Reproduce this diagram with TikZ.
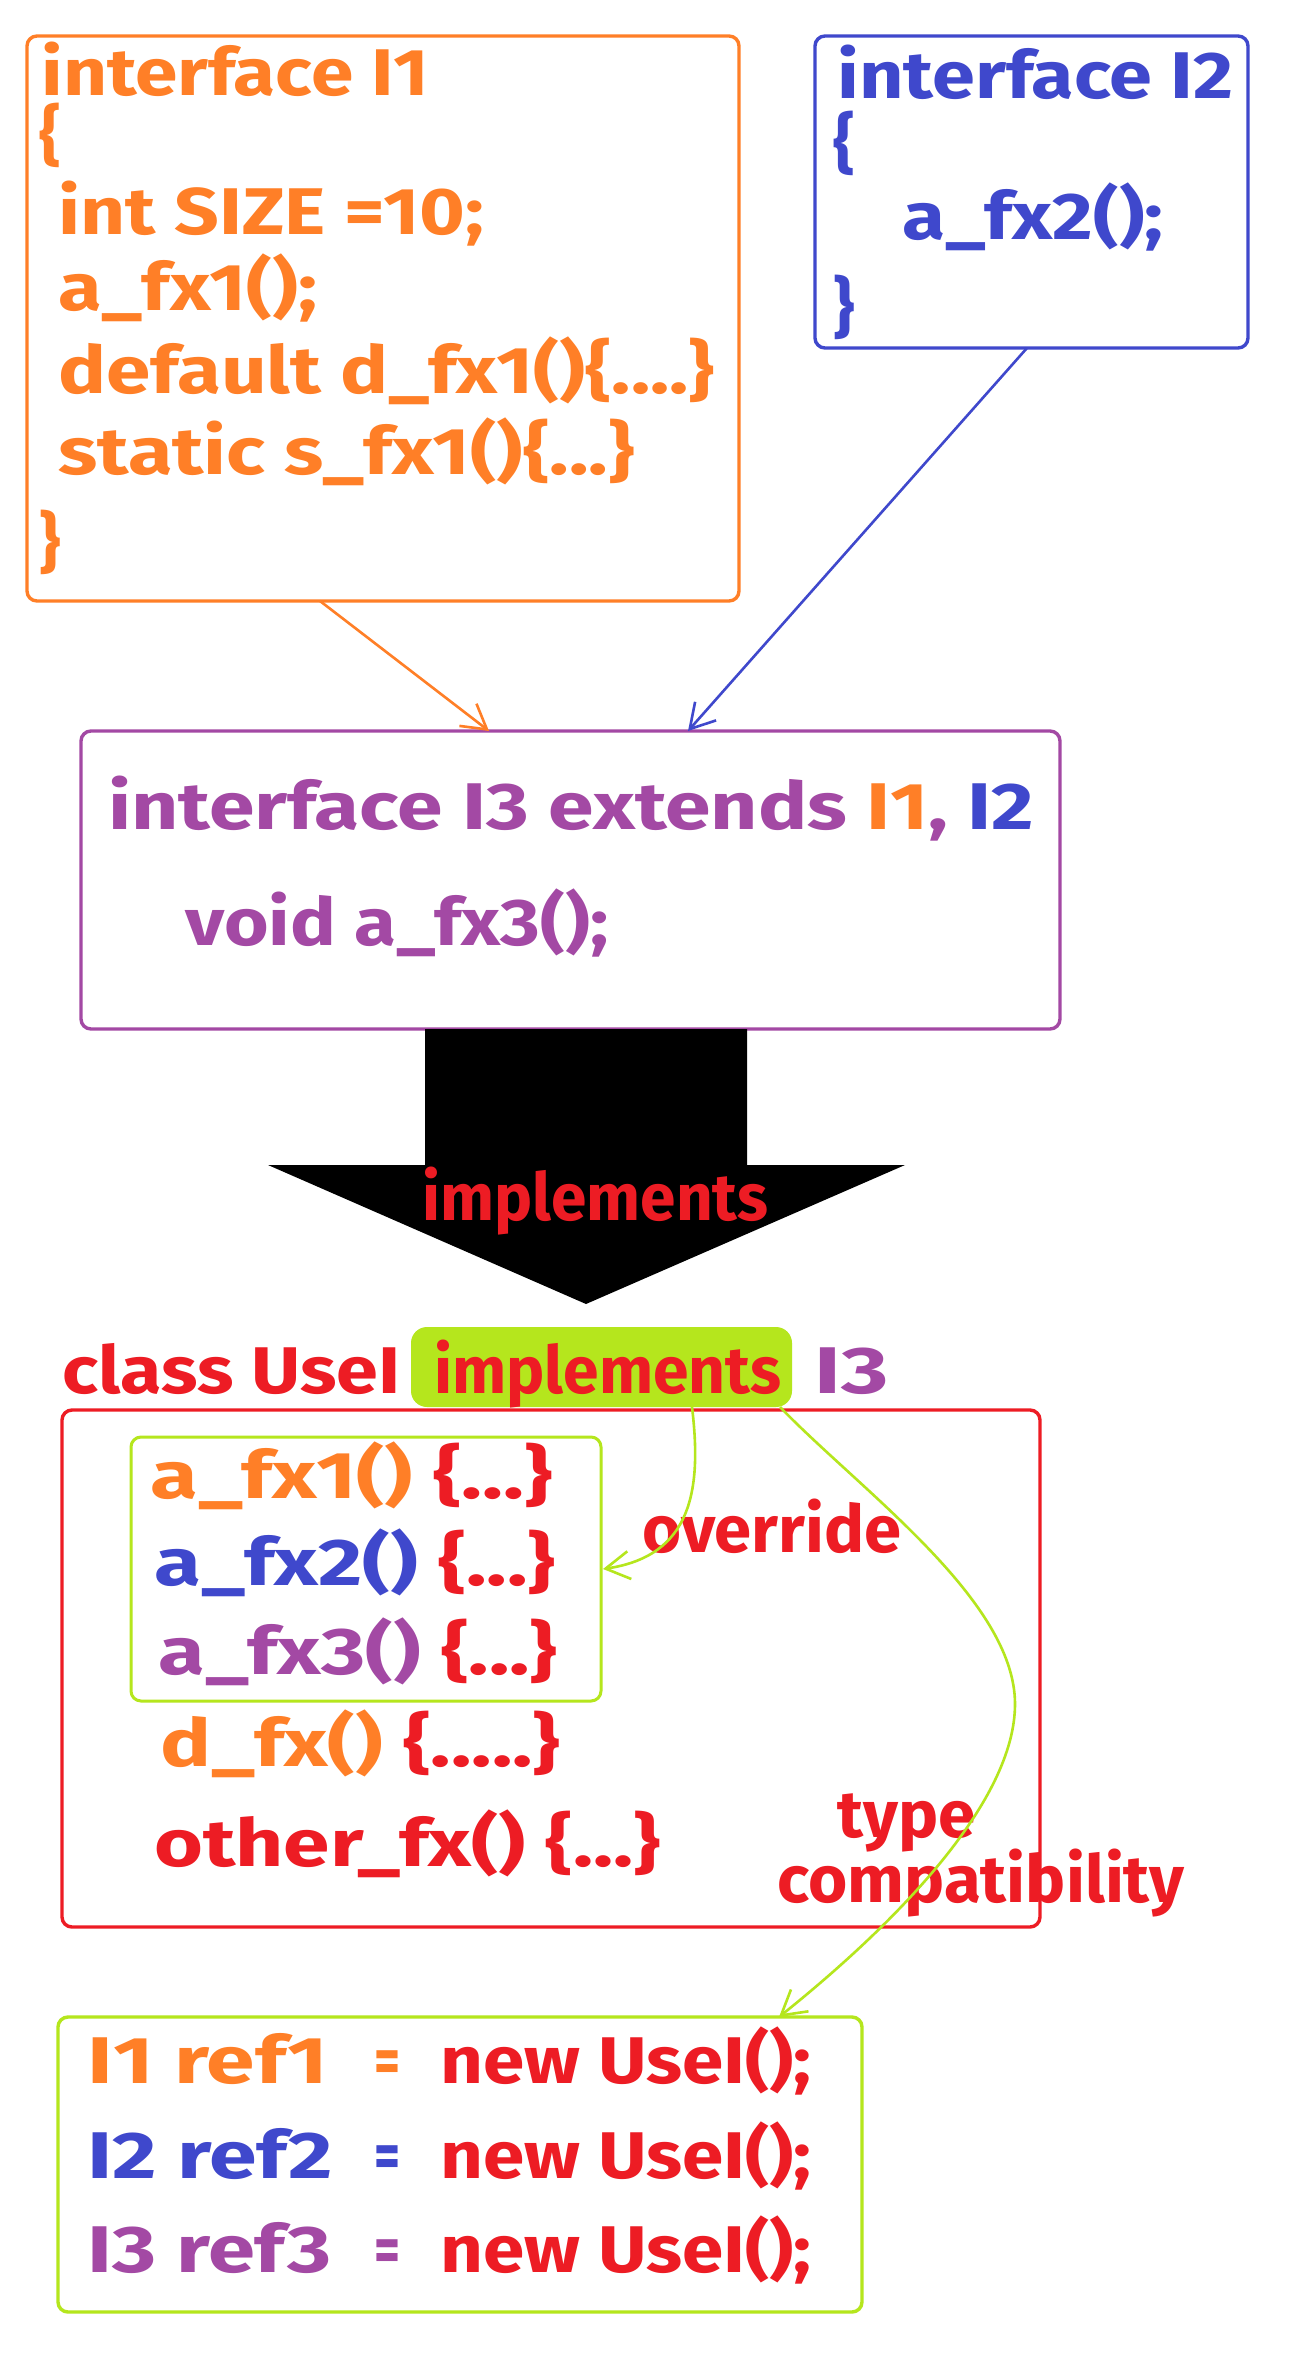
\documentclass[tikz,border=0pt]{standalone}
\usepackage{fontspec}
\setmainfont{Fira Sans}
\usepackage{graphicx}
\usetikzlibrary{arrows.meta,fit}
\definecolor{cO}{HTML}{FF7F27}
\definecolor{cB}{HTML}{3F48CC}
\definecolor{cP}{HTML}{A349A4}
\definecolor{cR}{HTML}{ED1C24}
\definecolor{cG}{HTML}{B5E61D}
\newcommand\fitw[2]{\resizebox{\dimexpr #1pt/2\relax}{\height}{#2}}
\tikzset{
  box/.style={draw, rounded corners=5pt, line width=1.7pt, inner sep=0pt},
  txt/.style={anchor=base west, inner sep=0pt, font=\fontsize{33}{40}\selectfont\bfseries},
  conn/.style={line width=1.3pt, -{Straight Barb[length=12pt,width=14pt,line width=1.3pt]}},
}
\begin{document}
\begin{tikzpicture}[x=0.5pt,y=-0.5pt]
\fill[white] (0,0) rectangle (1296,2355);
\useasboundingbox (0,0) rectangle (1296,2355);

% ---- interface I1
\node[box, draw=cO, fit={(27,36) (739,601)}] (i1) {};
\node[txt, text=cO] (i1a) at (41,96) {\fitw{388}{interface I1}};
\node[txt, text=cO] (i1b) at (39,158) {\{};
\node[txt, text=cO] (i1c) at (58,234) {\fitw{426}{int SIZE =10;}};
\node[txt, text=cO] (i1d) at (58,310) {\fitw{259}{a\_fx1();}};
\node[txt, text=cO] (i1e) at (58,393) {\fitw{656}{default d\_fx1()\{....\}}};
\node[txt, text=cO] (i1f) at (58,474) {\fitw{576}{static s\_fx1()\{...\}}};
\node[txt, text=cO] (i1g) at (39,565) {\}};

% ---- interface I2
\node[box, draw=cB, fit={(815,36) (1248,348)}] (i2) {};
\node[txt, text=cB] (i2a) at (837,98) {\fitw{396}{interface I2}};
\node[txt, text=cB] (i2b) at (833,166) {\{};
\node[txt, text=cB] (i2c) at (902,239) {\fitw{261}{a\_fx2();}};
\node[txt, text=cB] (i2d) at (833,330) {\}};

% ---- interface I3
\node[box, draw=cP, fit={(81,731) (1060,1029)}] (i3) {};
\node[txt, text=cP] (i3a) at (108,829) {\fitw{926}{interface I3 extends \textcolor{cO}{I1}, \textcolor{cB}{I2}}};
\node[txt, text=cP] (i3b) at (185,945) {\fitw{423}{void a\_fx3();}};

% ---- connectors I1, I2 -> I3
\coordinate (oa0) at (320,601);
\coordinate (oa1) at (489,731);
\coordinate (ba0) at (1027,348);
\coordinate (ba1) at (688,731);
\draw[conn, cO] (oa0) -- (oa1);
\draw[conn, cB] (ba0) -- (ba1);

% ---- big black arrow
\fill[black] (425,1029) -- (747,1029) -- (747,1165) -- (905,1165) -- (586,1304)
  -- (268,1165) -- (425,1165) -- cycle;
\node[txt, text=cR] (impl) at (422,1220) {\fitw{346}{implements}};

% ---- class UseI
\node[fill=cG, rounded corners=8pt, inner sep=0pt, fit={(411,1327) (792,1407)}] (hl) {};
\node[txt, text=cR] (cls) at (62,1393) {\fitw{338}{class UseI}};
\node[txt, text=cR] (clsimpl) at (434,1393) {\fitw{347}{implements}};
\node[txt, text=cP] (clsi3) at (814,1393) {\fitw{74}{I3}};

\node[box, draw=cR, fit={(62,1410) (1040,1927)}] (cbox) {};
\node[box, draw=cG, line width=1.5pt, fit={(131,1437) (601,1701)}] (gbox) {};
\node[txt, text=cR] (m1) at (150,1498) {\fitw{402}{\textcolor{cO}{a\_fx1()} \{...\}}};
\node[txt, text=cR] (m2) at (154,1585) {\fitw{401}{\textcolor{cB}{a\_fx2()} \{...\}}};
\node[txt, text=cR] (m3) at (158,1674) {\fitw{399}{\textcolor{cP}{a\_fx3()} \{...\}}};
\node[txt, text=cR] (m4) at (160,1766) {\fitw{400}{\textcolor{cO}{d\_fx()} \{.....\}}};
\node[txt, text=cR] (m5) at (154,1866) {\fitw{506}{other\_fx() \{...\}}};

\node[txt, text=cR] (ovr) at (642,1552) {\fitw{259}{override}};
\node[txt, text=cR] (typ) at (837,1837) {\fitw{138}{type}};
\node[txt, text=cR] (cmp) at (777,1902) {\fitw{407}{compatibility}};

% ---- bottom box
\node[box, draw=cG, fit={(58,2017) (862,2312)}] (rbox) {};
\node[txt, text=cO] (r1a) at (87,2083) {\fitw{241}{I1 ref1}};
\node[txt, text=cO] (r1b) at (374,2083) {\fitw{26}{=}};
\node[txt, text=cR] (r1c) at (440,2083) {\fitw{371}{new UseI();}};
\node[txt, text=cB] (r2a) at (87,2178) {\fitw{246}{I2 ref2}};
\node[txt, text=cB] (r2b) at (374,2178) {\fitw{26}{=}};
\node[txt, text=cR] (r2c) at (440,2178) {\fitw{371}{new UseI();}};
\node[txt, text=cP] (r3a) at (87,2272) {\fitw{244}{I3 ref3}};
\node[txt, text=cP] (r3b) at (374,2272) {\fitw{26}{=}};
\node[txt, text=cR] (r3c) at (440,2272) {\fitw{371}{new UseI();}};

% ---- green connectors
\coordinate (ov0) at (692,1407);
\coordinate (ov1) at (603,1569);
\draw[conn, cG] (ov0) .. controls (702,1490) and (692,1556) .. (ov1);
\coordinate (tc0) at (780,1407);
\coordinate (tc1) at (1015,1704);
\coordinate (tc2) at (779,2017);
\draw[conn, cG] (tc0) .. controls (860,1490) and (1015,1600) .. (tc1)
  .. controls (1015,1800) and (900,1920) .. (tc2);
\end{tikzpicture}
\end{document}
